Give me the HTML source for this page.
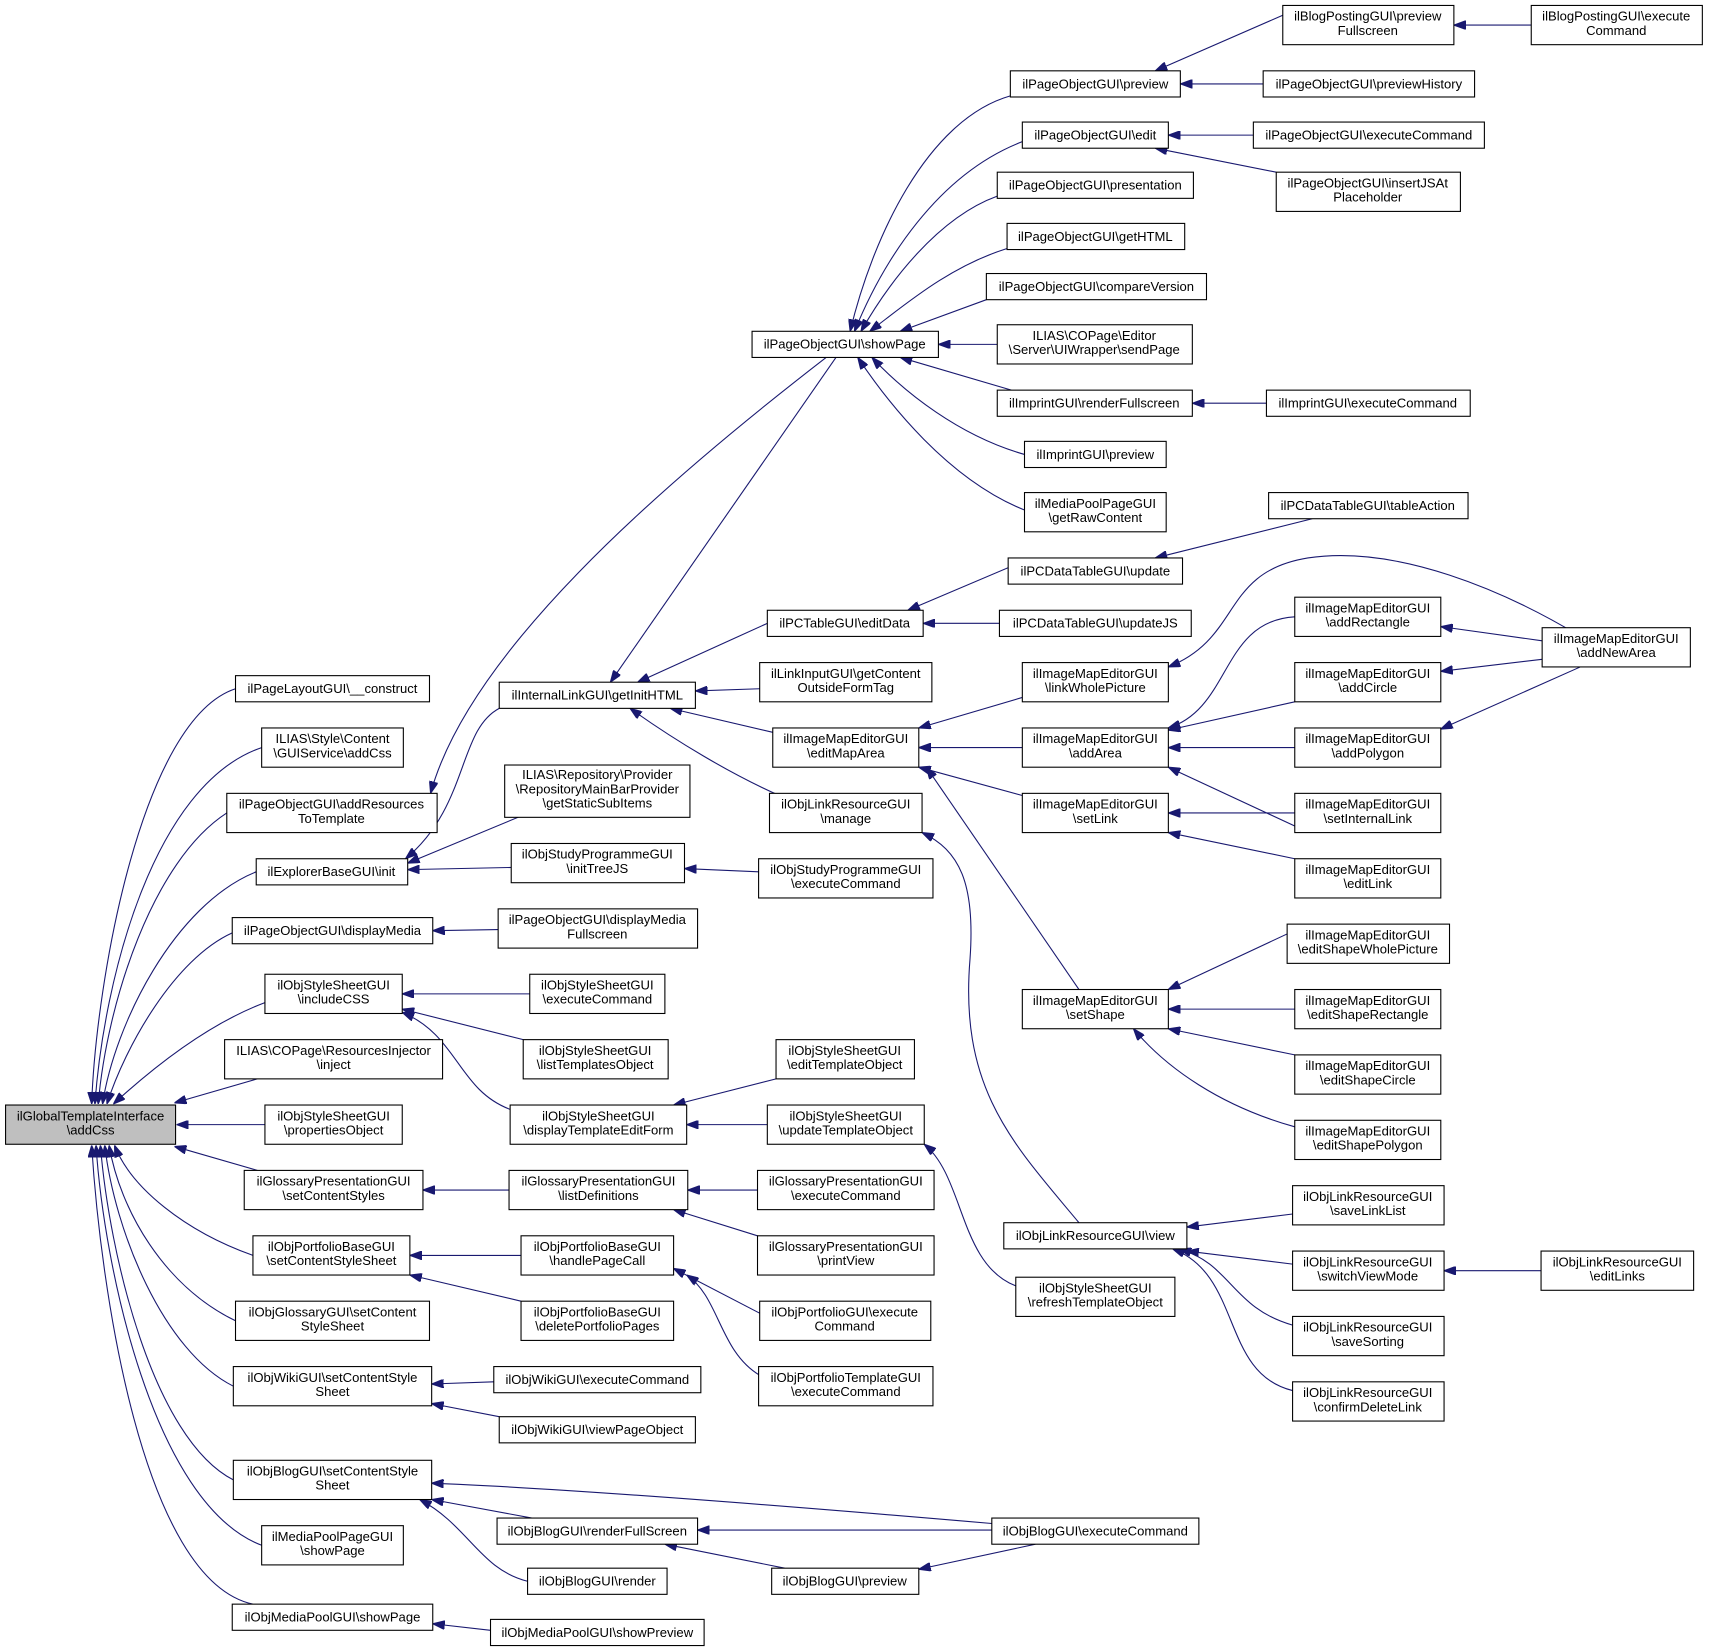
<!DOCTYPE html>
<html><head><meta charset="utf-8"><style>
html,body{margin:0;padding:0;background:#fff}
svg{display:block}
text{font-family:"Liberation Sans",Helvetica,Arial,sans-serif;font-size:12px;fill:#000;text-anchor:middle}
rect{fill:#fff;stroke:#000;stroke-width:1}
path{fill:none;stroke:#191970;stroke-width:1}
</style></head><body>
<svg width="1709" height="1651" viewBox="0 0 1568 1515" xmlns="http://www.w3.org/2000/svg">
<defs><marker id="a" markerWidth="11" markerHeight="8" refX="11" refY="4" orient="auto" markerUnits="userSpaceOnUse"><path d="M0,0 L11,4 L0,8 z" style="fill:#191970;stroke:#191970"/></marker></defs>
<g marker-end="url(#a)">
<!-- to main top -->
<path d="M216,632 C130,660 88,900 84,1013"/>
<path d="M240,686 C140,720 95,900 87,1013"/>
<path d="M208,746 C140,790 98,920 90,1013"/>
<path d="M235,800 C160,830 105,940 94,1013"/>
<path d="M213,856 C160,880 115,960 98,1013"/>
<path d="M243,920 C190,940 140,980 104,1013"/>
<path d="M236,990 L160,1012"/>
<path d="M243,1032 L162,1032"/>
<path d="M236,1074 L160,1052"/>
<path d="M232,1152 C170,1130 120,1090 105,1051"/>
<path d="M216,1212 C150,1180 110,1110 100,1051"/>
<path d="M214,1272 C150,1240 105,1130 96,1051"/>
<path d="M214,1358 C140,1320 100,1150 92,1051"/>
<path d="M240,1418 C140,1380 95,1160 88,1051"/>
<path d="M232,1472 C130,1450 92,1180 84,1051"/>
<!-- col2/col3 -->
<path d="M758,328 C600,450 430,600 395,728"/>
<path d="M458,650 C420,670 430,740 372,788"/>
<path d="M480,748 L374,792"/>
<path d="M469,796 L374,798"/>
<path d="M457,853 L397,854"/>
<path d="M486,912 L369,912"/>
<path d="M480,954 L369,926"/>
<path d="M468,1018 C420,1000 420,950 369,929"/>
<path d="M467,1092 L388,1092"/>
<path d="M478,1152 L376,1152"/>
<path d="M478,1194 L376,1170"/>
<path d="M453,1268 L396,1270"/>
<path d="M458,1300 L396,1288"/>
<path d="M910,1398 C700,1380 500,1365 396,1361"/>
<path d="M488,1393 L396,1376"/>
<path d="M484,1451 C440,1440 430,1400 385,1376"/>
<path d="M450,1496 L397,1490"/>
<!-- to getInitHTML -->
<path d="M767,328 L560,626"/>
<path d="M704,572 L585,626"/>
<path d="M697,632 L638,634"/>
<path d="M709,672 L615,650"/>
<path d="M715,730 C670,710 620,680 578,650"/>
<!-- to showPage -->
<path d="M927,88 C850,110 800,220 780,304"/>
<path d="M938,130 C860,160 810,240 784,304"/>
<path d="M915,180 C860,200 815,260 790,304"/>
<path d="M924,228 C870,245 830,280 798,304"/>
<path d="M905,275 L826,304"/>
<path d="M915,316 L861,316"/>
<path d="M928,358 L826,328"/>
<path d="M940,417 C880,400 830,360 800,328"/>
<path d="M940,468 C870,440 815,370 787,328"/>
<path d="M1177,14 L1060,65"/>
<path d="M1159,77 L1083,77"/>
<path d="M1405,23 L1334,23"/>
<path d="M1150,124 L1072,124"/>
<path d="M1171,158 L1060,136"/>
<path d="M1162,370 L1094,370"/>
<path d="M946,512 L833,560"/>
<path d="M917,572 L847,572"/>
<path d="M1204,476 L1060,512"/>
<path d="M1460,590 C1380,540 1280,500 1200,512 C1120,525 1140,585 1072,612"/>
<path d="M938,640 L843,668"/>
<path d="M938,686 L843,686"/>
<path d="M938,730 L843,704"/>
<path d="M990,908 L850,704"/>
<path d="M990,1122 C930,1050 880,1000 890,880 C895,810 880,780 846,764"/>
<path d="M1188,566 C1120,570 1130,650 1072,668"/>
<path d="M1188,644 L1072,670"/>
<path d="M1188,686 L1072,686"/>
<path d="M1188,758 L1072,704"/>
<path d="M1415,588 L1322,575"/>
<path d="M1415,605 L1322,616"/>
<path d="M1450,612 L1322,669"/>
<path d="M1188,746 L1072,746"/>
<path d="M1188,788 L1072,764"/>
<path d="M1181,857 L1072,908"/>
<path d="M1188,926 L1072,926"/>
<path d="M1188,968 L1072,944"/>
<path d="M1188,1034 C1120,1015 1070,980 1040,944"/>
<path d="M712,990 L618,1014"/>
<path d="M704,1032 L630,1032"/>
<path d="M932,1180 C880,1160 885,1080 848,1050"/>
<path d="M695,1092 L631,1092"/>
<path d="M695,1134 L618,1110"/>
<path d="M697,1205 L618,1164"/>
<path d="M697,1262 C660,1240 660,1190 630,1170"/>
<path d="M1186,1114 L1089,1126"/>
<path d="M1186,1160 L1089,1148"/>
<path d="M1186,1216 C1130,1200 1130,1160 1082,1146"/>
<path d="M1186,1276 C1120,1260 1140,1170 1076,1146"/>
<path d="M1414,1166 L1325,1166"/>
<path d="M696,800 L628,797"/>
<path d="M910,1404 L640,1404"/>
<path d="M720,1439 L610,1417"/>
<path d="M950,1417 L843,1440"/>
</g>
<!-- boxes -->
<rect x="5" y="1014" width="156" height="36" style="fill:#bfbfbf"/><text x="83" y="1028">ilGlobalTemplateInterface</text><text x="83" y="1041">\addCss</text>
<rect x="216" y="620" width="178" height="24"/><text x="305" y="636">ilPageLayoutGUI\__construct</text>
<rect x="240" y="668" width="130" height="36"/><text x="305" y="682">ILIAS\Style\Content</text><text x="305" y="695">\GUIService\addCss</text>
<rect x="208" y="728" width="193" height="36"/><text x="304" y="742">ilPageObjectGUI\addResources</text><text x="304" y="755">ToTemplate</text>
<rect x="235" y="788" width="139" height="24"/><text x="304" y="804">ilExplorerBaseGUI\init</text>
<rect x="213" y="842" width="184" height="24"/><text x="305" y="858">ilPageObjectGUI\displayMedia</text>
<rect x="243" y="894" width="126" height="36"/><text x="306" y="908">ilObjStyleSheetGUI</text><text x="306" y="921">\includeCSS</text>
<rect x="206" y="954" width="200" height="36"/><text x="306" y="968">ILIAS\COPage\ResourcesInjector</text><text x="306" y="981">\inject</text>
<rect x="243" y="1014" width="126" height="36"/><text x="306" y="1028">ilObjStyleSheetGUI</text><text x="306" y="1041">\propertiesObject</text>
<rect x="224" y="1074" width="164" height="36"/><text x="306" y="1088">ilGlossaryPresentationGUI</text><text x="306" y="1101">\setContentStyles</text>
<rect x="232" y="1134" width="144" height="36"/><text x="304" y="1148">ilObjPortfolioBaseGUI</text><text x="304" y="1161">\setContentStyleSheet</text>
<rect x="216" y="1194" width="178" height="36"/><text x="305" y="1208">ilObjGlossaryGUI\setContent</text><text x="305" y="1221">StyleSheet</text>
<rect x="214" y="1254" width="182" height="36"/><text x="305" y="1268">ilObjWikiGUI\setContentStyle</text><text x="305" y="1281">Sheet</text>
<rect x="214" y="1340" width="182" height="36"/><text x="305" y="1354">ilObjBlogGUI\setContentStyle</text><text x="305" y="1367">Sheet</text>
<rect x="240" y="1400" width="130" height="36"/><text x="305" y="1414">ilMediaPoolPageGUI</text><text x="305" y="1427">\showPage</text>
<rect x="213" y="1472" width="184" height="24"/><text x="305" y="1488">ilObjMediaPoolGUI\showPage</text>

<rect x="458" y="626" width="180" height="24"/><text x="548" y="642">ilInternalLinkGUI\getInitHTML</text>
<rect x="463" y="702" width="170" height="48"/><text x="548" y="715">ILIAS\Repository\Provider</text><text x="548" y="728">\RepositoryMainBarProvider</text><text x="548" y="741">\getStaticSubItems</text>
<rect x="469" y="774" width="159" height="36"/><text x="548" y="788">ilObjStudyProgrammeGUI</text><text x="548" y="801">\initTreeJS</text>
<rect x="457" y="834" width="183" height="36"/><text x="548" y="848">ilPageObjectGUI\displayMedia</text><text x="548" y="861">Fullscreen</text>
<rect x="486" y="894" width="124" height="36"/><text x="548" y="908">ilObjStyleSheetGUI</text><text x="548" y="921">\executeCommand</text>
<rect x="480" y="954" width="133" height="36"/><text x="546" y="968">ilObjStyleSheetGUI</text><text x="546" y="981">\listTemplatesObject</text>
<rect x="468" y="1014" width="162" height="36"/><text x="549" y="1028">ilObjStyleSheetGUI</text><text x="549" y="1041">\displayTemplateEditForm</text>
<rect x="467" y="1074" width="164" height="36"/><text x="549" y="1088">ilGlossaryPresentationGUI</text><text x="549" y="1101">\listDefinitions</text>
<rect x="478" y="1134" width="140" height="36"/><text x="548" y="1148">ilObjPortfolioBaseGUI</text><text x="548" y="1161">\handlePageCall</text>
<rect x="478" y="1194" width="140" height="36"/><text x="548" y="1208">ilObjPortfolioBaseGUI</text><text x="548" y="1221">\deletePortfolioPages</text>
<rect x="453" y="1254" width="190" height="24"/><text x="548" y="1270">ilObjWikiGUI\executeCommand</text>
<rect x="458" y="1300" width="180" height="24"/><text x="548" y="1316">ilObjWikiGUI\viewPageObject</text>
<rect x="456" y="1393" width="184" height="24"/><text x="548" y="1409">ilObjBlogGUI\renderFullScreen</text>
<rect x="484" y="1439" width="128" height="24"/><text x="548" y="1455">ilObjBlogGUI\render</text>
<rect x="450" y="1486" width="196" height="24"/><text x="548" y="1502">ilObjMediaPoolGUI\showPreview</text>

<rect x="690" y="304" width="171" height="24"/><text x="775" y="320">ilPageObjectGUI\showPage</text>
<rect x="704" y="560" width="143" height="24"/><text x="775" y="576">ilPCTableGUI\editData</text>
<rect x="697" y="608" width="158" height="36"/><text x="776" y="622">ilLinkInputGUI\getContent</text><text x="776" y="635">OutsideFormTag</text>
<rect x="709" y="668" width="134" height="36"/><text x="776" y="682">ilImageMapEditorGUI</text><text x="776" y="695">\editMapArea</text>
<rect x="706" y="728" width="140" height="36"/><text x="776" y="742">ilObjLinkResourceGUI</text><text x="776" y="755">\manage</text>
<rect x="696" y="788" width="160" height="36"/><text x="776" y="802">ilObjStudyProgrammeGUI</text><text x="776" y="815">\executeCommand</text>
<rect x="712" y="954" width="127" height="36"/><text x="775" y="968">ilObjStyleSheetGUI</text><text x="775" y="981">\editTemplateObject</text>
<rect x="704" y="1014" width="144" height="36"/><text x="776" y="1028">ilObjStyleSheetGUI</text><text x="776" y="1041">\updateTemplateObject</text>
<rect x="695" y="1074" width="162" height="36"/><text x="776" y="1088">ilGlossaryPresentationGUI</text><text x="776" y="1101">\executeCommand</text>
<rect x="695" y="1134" width="162" height="36"/><text x="776" y="1148">ilGlossaryPresentationGUI</text><text x="776" y="1161">\printView</text>
<rect x="697" y="1194" width="157" height="36"/><text x="775" y="1208">ilObjPortfolioGUI\execute</text><text x="775" y="1221">Command</text>
<rect x="696" y="1254" width="160" height="36"/><text x="776" y="1268">ilObjPortfolioTemplateGUI</text><text x="776" y="1281">\executeCommand</text>
<rect x="708" y="1439" width="135" height="24"/><text x="775" y="1455">ilObjBlogGUI\preview</text>

<rect x="927" y="65" width="156" height="24"/><text x="1005" y="81">ilPageObjectGUI\preview</text>
<rect x="938" y="112" width="134" height="24"/><text x="1005" y="128">ilPageObjectGUI\edit</text>
<rect x="915" y="158" width="180" height="24"/><text x="1005" y="174">ilPageObjectGUI\presentation</text>
<rect x="924" y="205" width="163" height="24"/><text x="1005" y="221">ilPageObjectGUI\getHTML</text>
<rect x="905" y="251" width="202" height="24"/><text x="1006" y="267">ilPageObjectGUI\compareVersion</text>
<rect x="915" y="298" width="179" height="36"/><text x="1004" y="312">ILIAS\COPage\Editor</text><text x="1004" y="325">\Server\UIWrapper\sendPage</text>
<rect x="915" y="358" width="179" height="24"/><text x="1004" y="374">ilImprintGUI\renderFullscreen</text>
<rect x="940" y="405" width="130" height="24"/><text x="1005" y="421">ilImprintGUI\preview</text>
<rect x="940" y="452" width="130" height="36"/><text x="1005" y="466">ilMediaPoolPageGUI</text><text x="1005" y="479">\getRawContent</text>
<rect x="925" y="512" width="160" height="24"/><text x="1005" y="528">ilPCDataTableGUI\update</text>
<rect x="917" y="560" width="176" height="24"/><text x="1005" y="576">ilPCDataTableGUI\updateJS</text>
<rect x="938" y="608" width="134" height="36"/><text x="1005" y="622">ilImageMapEditorGUI</text><text x="1005" y="635">\linkWholePicture</text>
<rect x="938" y="668" width="134" height="36"/><text x="1005" y="682">ilImageMapEditorGUI</text><text x="1005" y="695">\addArea</text>
<rect x="938" y="728" width="134" height="36"/><text x="1005" y="742">ilImageMapEditorGUI</text><text x="1005" y="755">\setLink</text>
<rect x="938" y="908" width="134" height="36"/><text x="1005" y="922">ilImageMapEditorGUI</text><text x="1005" y="935">\setShape</text>
<rect x="921" y="1122" width="168" height="24"/><text x="1005" y="1138">ilObjLinkResourceGUI\view</text>
<rect x="932" y="1172" width="146" height="36"/><text x="1005" y="1186">ilObjStyleSheetGUI</text><text x="1005" y="1199">\refreshTemplateObject</text>
<rect x="910" y="1393" width="190" height="24"/><text x="1005" y="1409">ilObjBlogGUI\executeCommand</text>

<rect x="1177" y="5" width="157" height="36"/><text x="1255" y="19">ilBlogPostingGUI\preview</text><text x="1255" y="32">Fullscreen</text>
<rect x="1159" y="65" width="194" height="24"/><text x="1256" y="81">ilPageObjectGUI\previewHistory</text>
<rect x="1150" y="112" width="212" height="24"/><text x="1256" y="128">ilPageObjectGUI\executeCommand</text>
<rect x="1171" y="158" width="169" height="36"/><text x="1255" y="172">ilPageObjectGUI\insertJSAt</text><text x="1255" y="185">Placeholder</text>
<rect x="1162" y="358" width="187" height="24"/><text x="1255" y="374">ilImprintGUI\executeCommand</text>
<rect x="1164" y="452" width="183" height="24"/><text x="1255" y="468">ilPCDataTableGUI\tableAction</text>
<rect x="1188" y="548" width="134" height="36"/><text x="1255" y="562">ilImageMapEditorGUI</text><text x="1255" y="575">\addRectangle</text>
<rect x="1188" y="608" width="134" height="36"/><text x="1255" y="622">ilImageMapEditorGUI</text><text x="1255" y="635">\addCircle</text>
<rect x="1188" y="668" width="134" height="36"/><text x="1255" y="682">ilImageMapEditorGUI</text><text x="1255" y="695">\addPolygon</text>
<rect x="1188" y="728" width="134" height="36"/><text x="1255" y="742">ilImageMapEditorGUI</text><text x="1255" y="755">\setInternalLink</text>
<rect x="1188" y="788" width="134" height="36"/><text x="1255" y="802">ilImageMapEditorGUI</text><text x="1255" y="815">\editLink</text>
<rect x="1181" y="848" width="149" height="36"/><text x="1255" y="862">ilImageMapEditorGUI</text><text x="1255" y="875">\editShapeWholePicture</text>
<rect x="1188" y="908" width="134" height="36"/><text x="1255" y="922">ilImageMapEditorGUI</text><text x="1255" y="935">\editShapeRectangle</text>
<rect x="1188" y="968" width="134" height="36"/><text x="1255" y="982">ilImageMapEditorGUI</text><text x="1255" y="995">\editShapeCircle</text>
<rect x="1188" y="1028" width="134" height="36"/><text x="1255" y="1042">ilImageMapEditorGUI</text><text x="1255" y="1055">\editShapePolygon</text>
<rect x="1186" y="1088" width="139" height="36"/><text x="1255" y="1102">ilObjLinkResourceGUI</text><text x="1255" y="1115">\saveLinkList</text>
<rect x="1186" y="1148" width="139" height="36"/><text x="1255" y="1162">ilObjLinkResourceGUI</text><text x="1255" y="1175">\switchViewMode</text>
<rect x="1186" y="1208" width="139" height="36"/><text x="1255" y="1222">ilObjLinkResourceGUI</text><text x="1255" y="1235">\saveSorting</text>
<rect x="1186" y="1268" width="139" height="36"/><text x="1255" y="1282">ilObjLinkResourceGUI</text><text x="1255" y="1295">\confirmDeleteLink</text>

<rect x="1405" y="5" width="157" height="36"/><text x="1483" y="19">ilBlogPostingGUI\execute</text><text x="1483" y="32">Command</text>
<rect x="1415" y="576" width="136" height="36"/><text x="1483" y="590">ilImageMapEditorGUI</text><text x="1483" y="603">\addNewArea</text>
<rect x="1414" y="1148" width="140" height="36"/><text x="1484" y="1162">ilObjLinkResourceGUI</text><text x="1484" y="1175">\editLinks</text>
</svg>
</body></html>
